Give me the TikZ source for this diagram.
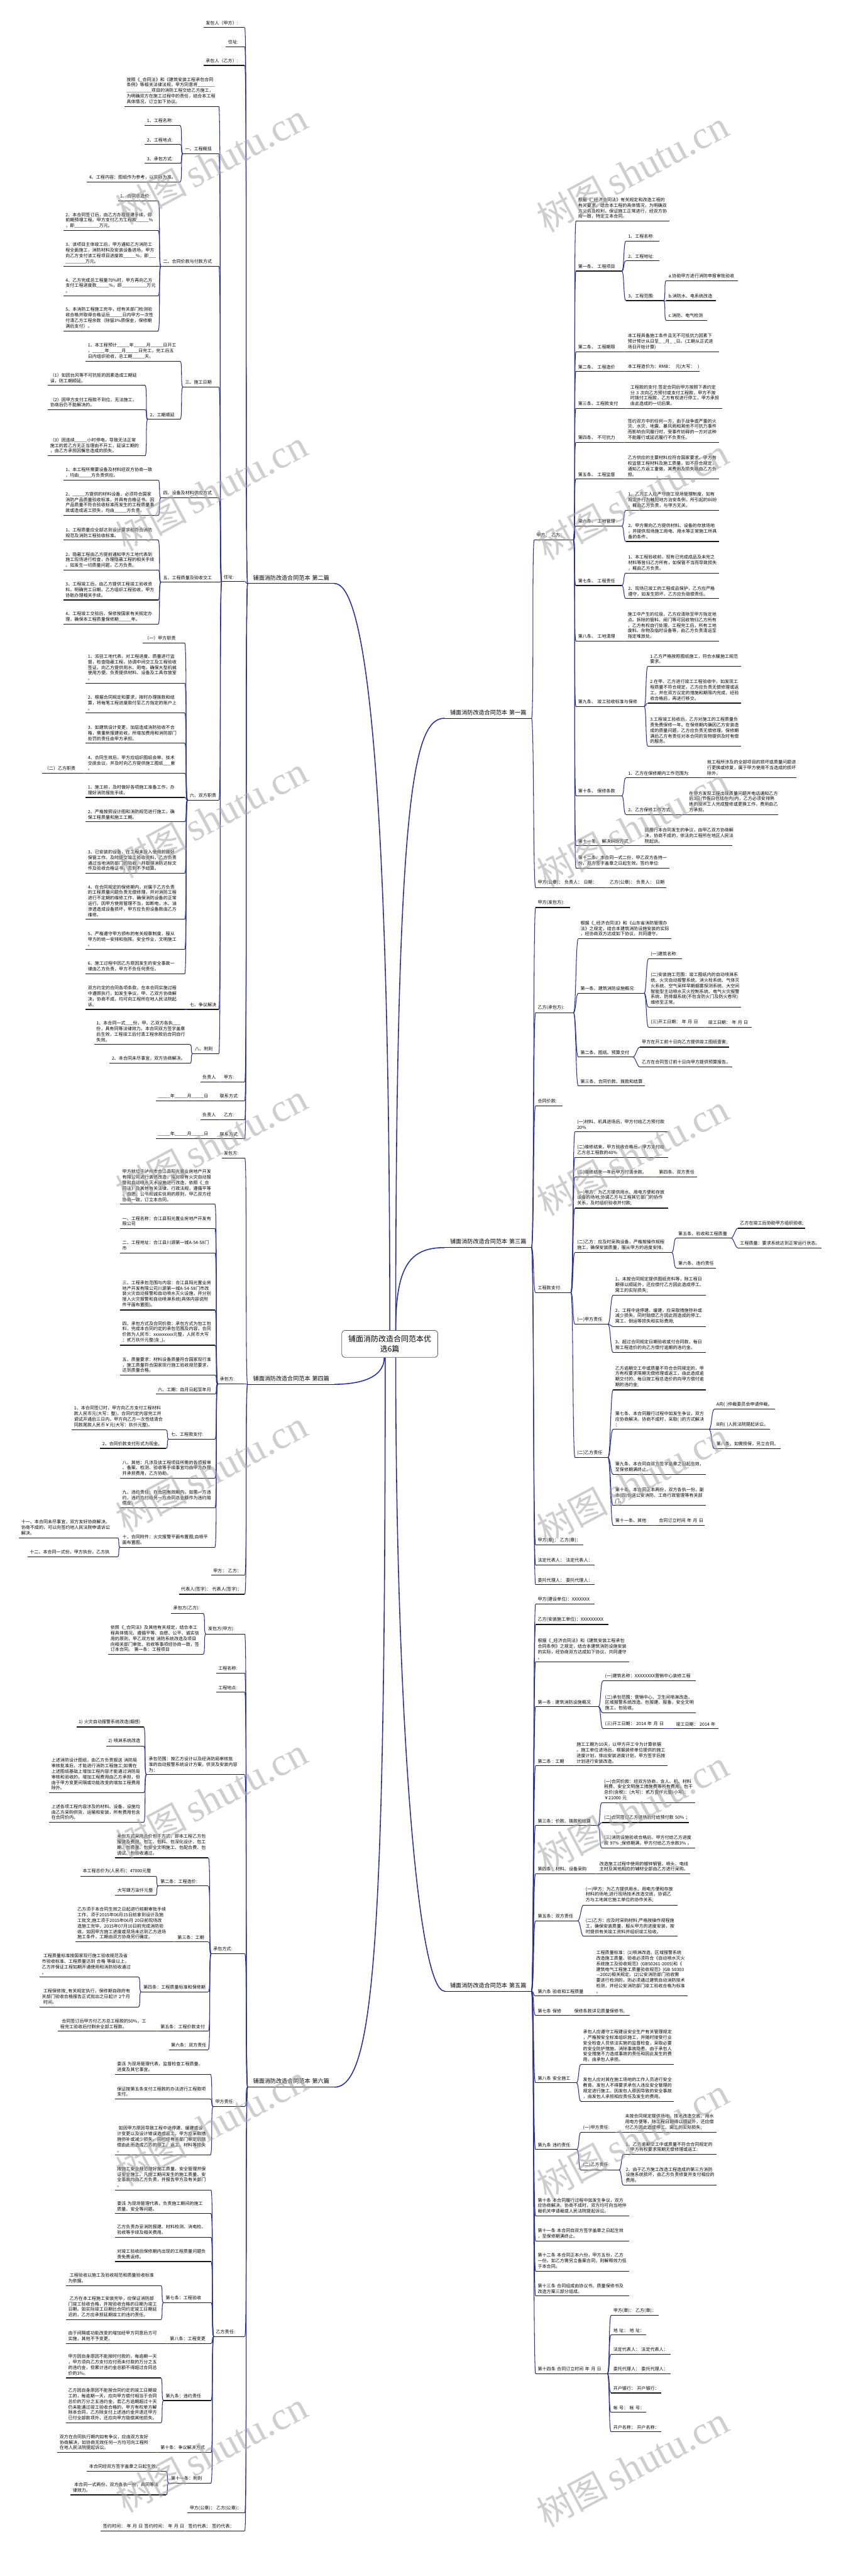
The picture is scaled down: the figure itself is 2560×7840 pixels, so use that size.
\documentclass[tikz,border=0pt]{standalone}
\usepackage{fontspec}
\setmainfont{Noto Sans CJK SC}
\newfontfamily\wmcjk{Noto Sans CJK SC}
\newfontfamily\wmlat{Liberation Serif}
\usetikzlibrary{positioning}
\definecolor{linkblue}{RGB}{40,46,160}
\definecolor{ulblack}{RGB}{25,25,25}
\newcommand\leaffont{\fontsize{3.84}{4.81}\selectfont}
\newcommand\lvfont{\fontsize{4.95}{6}\selectfont}
\newcommand\rootfont{\fontsize{6.54}{8.68}\selectfont}
\newcommand\blnk{\_\_\_\_\_}
\tikzset{
  leaf/.style={anchor=south west, align=left, font=\leaffont, inner xsep=0.06cm, inner ysep=0.07cm,
    execute at begin node={\hyphenpenalty=10000\relax\exhyphenpenalty=10000\relax}},
  lvl1/.style={leaf, font=\lvfont, text width=2.31cm, inner xsep=0.16cm, inner ysep=0.09cm},
  uline/.style={draw=ulblack, line width=0.022cm},
  link/.style={draw=linkblue, line width=0.02cm},
  trunk/.style={draw=linkblue, line width=0.03cm},
  rootbox/.style={draw=black!65, line width=0.015cm, rounded corners=0.09cm, fill=white,
    minimum width=2.92cm, minimum height=0.82cm, align=center, font=\rootfont},
  wm/.style={rotate=28, text=black!35, opacity=0.55}
}
% text node with underline: [style]{name}{west}{east}{y}{text}
\newcommand\mmnode[6][leaf]{%
  \pgfmathsetlengthmacro\nodetw{(#4-#3)*0.01cm-0.12cm}%
  \node[#1, text width=\nodetw] (#2) at (#3,#5) {#6};
  \draw[uline] (#2.south west) -- (#2.south east);}
% branch label: {name}{west}{y}{text}
\newcommand\mmlabel[4]{%
  \node[lvl1] (#1) at (#2,#3) {#4};
  \draw[uline] (#1.south west) -- (#1.south east);}
\newcommand\lkl[2]{\draw[link] (#1.south west) to[out=180,in=0,distance=0.08cm] (#2.south east);}
\newcommand\lkr[2]{\draw[link] (#1.south east) to[out=0,in=180,distance=0.08cm] (#2.south west);}
\begin{document}
\begin{tikzpicture}[x=0.01cm, y=-0.01cm]
\fill[white] (0,0) rectangle (2560,7840);
\useasboundingbox (0,0) rectangle (2560,7840);

% root
\node[rootbox] (root) at (1187,4090) {铺面消防改造合同范本优\\选6篇};

% ---------- 第二篇 (left)
\mmlabel{p2}{754}{1776}{铺面消防改造合同范本~第二篇}
\mmnode{p2a}{620}{744}{84}{发包人（甲方）:}
\mmnode{p2b}{688}{744}{142}{住址:}
\mmnode{p2c}{620}{744}{199}{承包人（乙方）:}
\mmnode{p2d}{675}{744}{1770}{住址:}
\mmnode{p2e}{675}{744}{3293}{甲方:}
\mmnode{p2e1}{610}{665}{3293}{负责人}
\mmnode{p2f}{663}{744}{3350}{联系方式:}
\mmnode{p2f1}{474}{653}{3350}{\blnk 年\blnk 月\blnk 日}
\mmnode{p2g}{675}{744}{3408}{乙方:}
\mmnode{p2g1}{610}{665}{3408}{负责人}
\mmnode{p2h}{663}{744}{3466}{联系方式:}
\mmnode{p2h1}{474}{653}{3466}{\blnk 年\blnk 月\blnk 日}
\foreach \c in {p2a,p2b,p2c,p2d,p2e,p2f,p2g,p2h} {\lkl{p2}{\c}}
\foreach \p/\c in {p2e/p2e1,p2f/p2f1,p2g/p2g1,p2h/p2h1} {\lkl{\p}{\c}}

\mmnode{d1}{379}{665}{324}{按照《\_合同法》和《建筑安装工程承包合同\\条例》等相关法律法规，甲方同意将\blnk\_\_\\\blnk\blnk 项目的消防工程交给乙方施工，\\为明确双方在施工过程中的责任，结合本工程\\具体情况，订立如下协议。}
\mmnode{d2}{557}{665}{468}{一、工程概括}
\mmnode{d2a}{441}{547}{382}{1、工程名称:}
\mmnode{d2b}{441}{547}{440}{2、工程地点:}
\mmnode{d2c}{441}{547}{497}{3、承包方式:}
\mmnode{d2d}{265}{547}{554}{4、工程内容：图纸作为参考，以实际为准。}
\mmnode{d3}{490}{665}{810}{二、合同价款与付款方式}
\mmnode{d3a}{359}{480}{611}{1、合同总造价:}
\mmnode{d3b}{193}{480}{702}{2、本合同签订后，由乙方办理报建手续，即\\前期预埋工程。甲方支付乙方工程款\blnk\%\\，即\blnk\blnk 万元。}
\mmnode{d3c}{193}{480}{810}{3、该项目主体竣工后，甲方通知乙方消防工\\程全面施工，消防材料及安装设备进场。甲方\\向乙方支付该工程项目进度款\blnk\%，即\_\_\_\\\blnk\_\_\_万元。}
\mmnode{d3d}{193}{480}{900}{4、乙方完成总工程量70\%时，甲方再向乙方\\支付工程进度款\blnk\%，即\blnk\blnk 万元\\。}
\mmnode{d3e}{193}{480}{1007}{5、本消防工程施工完毕，经有关部门检测验\\收合格并取得合格证后\blnk 日内甲方一次性\\付清乙方工程余款（除留3\%质保金，保修期\\满后支付）。}
\mmnode{d4}{557}{665}{1178}{三、施工日期}
\mmnode{d4a}{261}{547}{1099}{1、本工程预计\blnk 年\blnk 月\blnk 日开工\\，\blnk 年\blnk 月\blnk 日完工，完工后五\\日内组织验收，总工期\blnk 天。}
\mmnode{d4b}{450}{547}{1276}{2、工期顺延}
\mmnode{d4b1}{146}{440}{1173}{（1）如因台风等不可抗拒的因素造成工期延\\误，则工期顺延。}
\mmnode{d4b2}{146}{440}{1247}{（2）因甲方支付工程款不到位，无法施工，\\协商后仍不能解决的。}
\mmnode{d4b3}{146}{440}{1387}{（3）因连续\blnk 小时停电，导致无法正常\\施工的若乙方无正当理由不开工，延误工期的\\，由乙方承担因懈怠造成的损失。}
\mmnode{d5}{490}{665}{1515}{四、设备及材料供应方式}
\mmnode{d5a}{193}{480}{1461}{1、本工程所需要设备及材料经双方协商一致\\，均由\blnk 方负责供应。}
\mmnode{d5b}{193}{480}{1569}{2、\blnk 方提供的材料设备，必须符合国家\\消防产品质量验收标准，并具有合格证书。因\\产品质量不符合验收标准而发生的工程质量事\\故或造成返工损失，均由\blnk 方负责。}
\mmnode{d6}{490}{665}{1772}{五、工程质量及验收交工}
\mmnode{d6a}{193}{480}{1644}{1、工程质量应全部达到设计要求和符合消防\\规范及消防工程验收标准。}
\mmnode{d6b}{193}{480}{1735}{2、隐蔽工程由乙方提前通知甲方工地代表到\\施工现场进行检查，办理隐蔽工程的相关手续\\。如发生一切质量问题，乙方负责。}
\mmnode{d6c}{193}{480}{1826}{3、工程竣工后，由乙方提供工程竣工验收资\\料，明确完工日期。乙方组织工程验收，甲方\\协助办理相关手续。}
\mmnode{d6d}{193}{480}{1900}{4、工程竣工交验后，保修按国家有关规定办\\理，确保本工程质量保修期\blnk 年。}
\mmnode{d7}{571}{665}{2435}{六、双方职责}
\mmnode{d7a}{434}{561}{1957}{（一）甲方职责}
\mmnode{d7b}{261}{561}{2079}{1、派驻工地代表，对工程进度、质量进行监\\督，检查隐蔽工程。协调中间交工及工程验收\\签证。向乙方提供用水、用电，确保大型机械\\使用方便。负责提供材料、设备及工具存放室\\。}
\mmnode{d7c}{261}{561}{2170}{2、根据合同规定和要求，按时办理拨款和结\\算，将每笔工程进度款付至乙方指定的账户上\\。}
\mmnode{d7d}{261}{561}{2262}{3、如建筑设计变更，加层造成消防验收不合\\格，需重新报建验收，所增加费用和消防部门\\处罚的责任由甲方承担。}
\mmnode{d7e}{261}{561}{2353}{4、合同生效后，甲方应组织图纸会审、技术\\交底会议，并及时向乙方提供施工图纸\_\_\_套\\。}
\mmnode{d7e1}{129}{251}{2353}{（二）乙方职责}
\mmnode{d7f}{261}{561}{2427}{1、施工前，及时做好各项施工准备工作，办\\理好消防报批手续。}
\mmnode{d7g}{261}{561}{2501}{2、严格按照设计图和消防规范进行施工，确\\保工程质量和施工工期。}
\mmnode{d7h}{261}{561}{2658}{3、已安装的设备，在工程未投入使用前做好\\保管工作。及时提交竣工验收资料，乙方负责\\通过当地消防部门的验收，并取得消防达标文\\件及验收合格证书，否则不予结算。}
\mmnode{d7i}{261}{561}{2798}{4、在合同规定的保修期内，对属于乙方负责\\的工程质量问题负责无偿修理，并对消防工程\\进行不定期的维修工作，确保消防设备的正常\\运行。因甲方使用管理不当，如断电，水、油\\渗透造成设备损坏，甲方应负担设备款由乙方\\维修。}
\mmnode{d7j}{261}{561}{2889}{5、严格遵守甲方颁布的有关规章制度，服从\\甲方的统一安排和指挥。安全作业，文明施工\\。}
\mmnode{d7k}{261}{561}{2964}{6、施工过程中因乙方原因发生的安全事故一\\律由乙方负责，甲方不负任何责任。}
\mmnode{d8}{571}{665}{3072}{七、争议解决}
\mmnode{d8a}{261}{561}{3072}{双方约定的合同各项条款，在本合同实施过程\\中遵照执行，如发生争议，甲、乙双方协商解\\决，协商不成，均可向工程所在地人民法院起\\诉。}
\mmnode{d9}{587}{665}{3207}{八、附则}
\mmnode{d9a}{287}{577}{3179}{1、本合同一式\_\_\_份，甲、乙双方各执\_\_\_\\份，具有同等法律效力。本合同双方签字盖章\\后生效，工程竣工后付清工程余款后合同自行\\失效。}
\mmnode{d9b}{334}{577}{3236}{2、本合同未尽事宜，双方协商解决。}
\foreach \c in {d1,d2,d3,d4,d5,d6,d7,d8,d9} {\lkl{p2d}{\c}}
\foreach \c in {d2a,d2b,d2c,d2d} {\lkl{d2}{\c}}
\foreach \c in {d3a,d3b,d3c,d3d,d3e} {\lkl{d3}{\c}}
\foreach \c in {d4a,d4b} {\lkl{d4}{\c}}
\foreach \c in {d4b1,d4b2,d4b3} {\lkl{d4b}{\c}}
\foreach \c in {d5a,d5b} {\lkl{d5}{\c}}
\foreach \c in {d6a,d6b,d6c,d6d} {\lkl{d6}{\c}}
\foreach \c in {d7a,d7b,d7c,d7d,d7e,d7f,d7g,d7h,d7i,d7j,d7k} {\lkl{d7}{\c}}
\lkl{d7e}{d7e1}
\lkl{d8}{d8a}
\foreach \c in {d9a,d9b} {\lkl{d9}{\c}}

% ---------- 第四篇 (left)
\mmlabel{p4}{754}{4213}{铺面消防改造合同范本~第四篇}
\mmnode{p4a}{675}{744}{3524}{发包方:}
\mmnode{p4b}{663}{744}{4212}{承包方:}
\mmnode{p4c}{643}{744}{4794}{甲方：~乙方：}
\mmnode{p4d}{545}{744}{4852}{代表人(签字)：~代表人(签字)：}
\foreach \c in {p4a,p4b,p4c,p4d} {\lkl{p4}{\c}}
\mmnode{p4b1}{366}{653}{3665}{甲方就位于泸州市合江县阳光置业房地产开发\\有限公司进行装修改造，拟对原有火灾自动报\\警和自动喷水灭水设施进行改造，依照《\_合\\同法》及其他有关法律、行政法规，遵循平等\\、自愿、公平和诚实信用的原则，甲乙双方经\\协商一致，订立本合同。}
\mmnode{p4b2}{366}{653}{3739}{一、工程名称：合江县阳光置业房地产开发有\\限公司}
\mmnode{p4b3}{366}{653}{3813}{二、工程地址：合江县川源第一城A-54-58门\\市}
\mmnode{p4b4}{366}{653}{3987}{三、工程承包范围与内容：合江县阳光置业房\\地产开发有限公司川源第一城A-54-58门市改\\装火灾自动报警和自动喷水灭火设施，并分别\\接入火灾报警和自动喷淋系统(具体内容说附\\件平面布置图)。}
\mmnode{p4b5}{366}{653}{4094}{四、承包方式及合同价款：承包方式为包工包\\料，完成本合同约定的承包范围及内容，合同\\价款为人民币：xxxxxxxxx元整，人民币大写\\：贰万玖仟元整(含\_)。}
\mmnode{p4b6}{366}{653}{4185}{五、质量要求：材料设备质量符合国家现行准\\，施工质量符合国家现行施工验收规范要求，\\达到质量合格。}
\mmnode{p4b7}{474}{653}{4243}{六、工期：自月日起至年月}
\mmnode{p4b8}{514}{653}{4380}{七、工程款支付:}
\mmnode{p4b8a}{219}{504}{4352}{1、本合同签订时，甲方向乙方支付工程材料\\款人民币元(大写：整)，合同约定内容完工并\\调试开通后三日内，甲方向乙方一次性结清合\\同款尾款人民币￥元(大写：玖仟元整)。}
\mmnode{p4b8b}{305}{504}{4408}{2、合同价款支付形式为现金。}
\mmnode{p4b9}{366}{653}{4499}{八、其他：凡涉及该工程项目所需的各项报审\\、备案、检测、验收等手续事宜均由甲方办理\\并承担费用，乙方协助。}
\mmnode{p4b10}{366}{653}{4589}{九、违约责任：在合同有效期内，如果一方违\\约，违约方付给另一方合同总金额作为违约赔\\偿金。}
\mmnode{p4b11}{366}{653}{4709}{十、合同附件：火灾报警平面布置图;自喷平\\面布置图。}
\mmnode{p4b11a}{58}{356}{4680}{十一、本合同未尽事宜，双方友好协商解决。\\协商不成的，可以向签约地人民法院申请诉讼\\解决。}
\mmnode{p4b11b}{84}{356}{4738}{十二、本合同一式份，甲方执份，乙方执}
\foreach \c in {p4b1,p4b2,p4b3,p4b4,p4b5,p4b6,p4b7,p4b8,p4b9,p4b10,p4b11} {\lkl{p4b}{\c}}
\foreach \c in {p4b8a,p4b8b} {\lkl{p4b8}{\c}}
\foreach \c in {p4b11a,p4b11b} {\lkl{p4b11}{\c}}

% ---------- 第六篇 (left)
\mmlabel{p6}{754}{6352}{铺面消防改造合同范本~第六篇}
\mmnode{p6a}{627}{744}{4973}{发包方(甲方):}
\mmnode{p6a1}{521}{617}{4910}{承包方(乙方):}
\mmnode{p6a2}{330}{617}{5035}{依照《\_合同法》及其他有关规定，结合本工\\程具体情况，遵循平等、自愿、公平、诚实信\\用的原则，甲乙双方就~消防系统改造及项目\\向相关部门审批、验收等事项经协商一致，签\\订本合同。~第一条：工程项目}
\mmnode{p6b}{658}{744}{5092}{工程名称:}
\mmnode{p6c}{658}{744}{5150}{工程地点:}
\mmnode{p6d}{446}{744}{5401}{承包范围：按乙方设计以及经消防局审核批\\准的自动报警系统设计方案，供货及安装内容\\为：}
\mmnode{p6d1}{233}{436}{5256}{1)~火灾自动报警系统改造(烟感)}
\mmnode{p6d2}{323}{436}{5314}{2)~喷淋系统改造}
\mmnode{p6d3}{150}{436}{5456}{上述消防设计图纸，由乙方负责报送~消防局\\审核批准后，才能进行消防工程施工;如需在\\上述图纸基础上增加工程内容才能通过消防局\\审核和验收的，增加工程费用由乙方承担，但\\由于甲方变更间隔或功能改变的增加工程费用\\除外。}
\mmnode{p6d4}{150}{436}{5546}{上述各项工程内容涉及的材料、设备、设施均\\由乙方采购供货、运输和安装，所有费用包含\\在合同价内。}
\mmnode{p6e}{643}{744}{5946}{承包方式:}
\mmnode{p6e1}{350}{633}{5654}{承包方式采用总价包干方式，即本工程乙方包\\报建及费用、包工、包料、包深化设计、包工\\期、包质量、包安全文明施工、包配合费、包\\调试、包验收通过。}
\mmnode{p6e2}{482}{633}{5740}{第二条：工程造价:}
\mmnode{p6e2a}{245}{472}{5710}{本工程总价为(人民币)：47000元整}
\mmnode{p6e2b}{351}{472}{5768}{大写肆万柒仟元整}
\mmnode{p6e3}{534}{633}{5910}{第三条：工期}
\mmnode{p6e3a}{229}{524}{5910}{乙方须于本合同生效之日起进行前期审批手续\\工作，须于2015年06月15日前拿到设计及施\\工批文;施工须于2015年06月~20日前现场改\\造施工完毕，2015年07月10日前完成消防验\\收。如因甲方施工进度或现场未达到乙方进场\\施工条件，工期由双方协商另行确定。}
\mmnode{p6e4}{430}{633}{6062}{第四条：工程质量标准和保修期}
\mmnode{p6e4a}{121}{420}{6017}{~工程质量标准按国家现行施工验收规范及省\\市验收标准、工程质量达到~合格~等级以上，\\乙方并保证工程如期开通使用和消防验收通过\\。}
\mmnode{p6e4b}{121}{420}{6108}{~工程保修按\_有关规定执行，保修期自政府有\\关部门验收合格报告正式批出之日起计~2个月\\~时间。}
\mmnode{p6e5}{482}{633}{6182}{第五条：工程价款支付}
\mmnode{p6e5a}{177}{472}{6182}{~合同签订后甲方付乙方总工程款的50\%，工\\程完工验收后付剩余全部工程款。}
\mmnode{p6e6}{514}{633}{6238}{第六条：双方责任}
\mmnode{p6f}{649}{744}{6411}{甲方责任:}
\mmnode{p6f1}{350}{639}{6313}{委派~为现场管理代表，监督检查工程质量、\\进度及其它事宜。}
\mmnode{p6f2}{350}{639}{6388}{保证按第五条支付工程款的办法进行工程款项\\支付。}
\mmnode{p6f3}{350}{639}{6559}{~如因甲方原因导致工程中途停建、缓建或设\\计变更以及设计错误造成返工，甲方应采取措\\施弥补或减少损失，同时经有关部门审定后赔\\偿由此而造成乙方的停工、返工、材料等损失\\。}
\mmnode{p6g}{651}{744}{7111}{乙方责任:}
\mmnode{p6g1}{350}{641}{6665}{按施工安全规范做好施工质量、安全管理并保\\证安全施工。凡施工期间发生的施工质量、安\\全事故均由乙方负责，并报告甲方及有关部门\\。}
\mmnode{p6g2}{350}{641}{6737}{委派~为现场管理代表，负责施工期间的施工\\质量、安全等问题。}
\mmnode{p6g3}{350}{641}{6809}{乙方负责办妥消防报建、材料检测、消电检、\\验收等手续及相关费用。}
\mmnode{p6g4}{350}{641}{6883}{对竣工验收后保修期内出现的工程质量问题负\\责免费返修。}
\mmnode{p6g5}{498}{641}{7008}{第七条：工程验收}
\mmnode{p6g5a}{201}{488}{6956}{~工程验收以施工及验收规范和质量验收标准\\为依据。}
\mmnode{p6g5b}{201}{488}{7060}{~乙方在本工程施工安装完毕，应保证消防部\\门竣工验收合格，并按验收合格的日期为竣工\\日期。如实际竣工日期比合同约定竣工日期延\\迟的，乙方应承担延期竣工的违约责任。}
\mmnode{p6g6}{511}{641}{7132}{第八条：工程变更}
\mmnode{p6g6a}{201}{501}{7132}{由于间隔或功能改变的增加经甲方同意后方可\\实施，其他不予变更。}
\mmnode{p6g7}{498}{641}{7306}{第九条：违约责任}
\mmnode{p6g7a}{201}{488}{7237}{甲方因自身原因不能按时付款的，每逾期一天\\，甲方须向乙方支付应付而未付款的万分之五\\的违约金，但累计违约金总额不得超过合同总\\价的3\%。}
\mmnode{p6g7b}{201}{488}{7374}{乙方因自身原因不能按合同约定的竣工日期竣\\工的，每逾期一天，应向甲方偿付相当于合同\\总价的万分之五违约金，若乙方逾期超过十天\\仍未能通过竣工验收合格的，甲方有权单方解\\除本合同，乙方除支付上述违约金并退还甲方\\已付全部款项外，还应向甲方赔偿其他损失。}
\mmnode{p6g8}{482}{641}{7464}{第十条：争议解决方式}
\mmnode{p6g8a}{175}{472}{7464}{双方在合同执行期内如有争议，应由双方友好\\协商解决，如协商无效任何一方均可向工程所\\在地人民法院提起诉讼。}
\mmnode{p6g9}{514}{641}{7557}{第十一条：附则}
\mmnode{p6g9a}{265}{504}{7521}{本合同经双方签字盖章之日起生效。}
\mmnode{p6g9b}{215}{504}{7593}{~本合同一式两份，双方各执一份，具同等法\\律效力。}
\mmnode{p6h}{571}{744}{7648}{甲方(公章)：~乙方(公章)：}
\mmnode{p6i}{567}{744}{7703}{签约代表：~签约代表：}
\mmnode{p6i1}{307}{557}{7703}{签约时间：~年~月~日~签约时间：~年~月~日}
\foreach \c in {p6a,p6b,p6c,p6d,p6e,p6f,p6g,p6h,p6i} {\lkl{p6}{\c}}
\foreach \c in {p6a1,p6a2} {\lkl{p6a}{\c}}
\foreach \c in {p6d1,p6d2,p6d3,p6d4} {\lkl{p6d}{\c}}
\foreach \c in {p6e1,p6e2,p6e3,p6e4,p6e5,p6e6} {\lkl{p6e}{\c}}
\foreach \c in {p6e2a,p6e2b} {\lkl{p6e2}{\c}}
\lkl{p6e3}{p6e3a}
\foreach \c in {p6e4a,p6e4b} {\lkl{p6e4}{\c}}
\lkl{p6e5}{p6e5a}
\foreach \c in {p6f1,p6f2,p6f3} {\lkl{p6f}{\c}}
\foreach \c in {p6g1,p6g2,p6g3,p6g4,p6g5,p6g6,p6g7,p6g8,p6g9} {\lkl{p6g}{\c}}
\foreach \c in {p6g5a,p6g5b} {\lkl{p6g5}{\c}}
\lkl{p6g6}{p6g6a}
\foreach \c in {p6g7a,p6g7b} {\lkl{p6g7}{\c}}
\lkl{p6g8}{p6g8a}
\foreach \c in {p6g9a,p6g9b} {\lkl{p6g9}{\c}}
\lkl{p6i}{p6i1}

% ---------- 第一篇 (right)
\mmlabel{p1}{1354}{2186}{铺面消防改造合同范本~第一篇}
\mmnode{p1a}{1627}{1745}{1643}{甲方：~乙方：}
\mmnode{p1b}{1631}{1842}{2701}{甲方(公章)：~负责人：~日期：}
\mmnode{p1b1}{1850}{2027}{2701}{乙方(公章)：~负责人：~日期}
\foreach \c in {p1a,p1b} {\lkr{p1}{\c}}
\lkr{p1b}{p1b1}
\mmnode{t1}{1754}{2037}{673}{根据《\_经济合同法》有关规定和改造工程的\\有关要求，结合本工程的具体情况，为明确双\\方义务及权利，保证施工正常进行，经双方协\\商一致，特定立本合同。}
\mmnode{t2}{1754}{1892}{825}{第一条、~工程项目}
\mmnode{t2a}{1906}{2006}{734}{1、工程名称:}
\mmnode{t2b}{1906}{2006}{794}{2、工程地址:}
\mmnode{t2c}{1906}{2019}{915}{3、工程范围:}
\mmnode{t2c1}{2029}{2246}{854}{a.协助甲方进行消防申报审批验收}
\mmnode{t2c2}{2029}{2179}{915}{b.消防水、电系统改造}
\mmnode{t2c3}{2029}{2151}{975}{c.消防、电气检测}
\mmnode{t3}{1754}{1895}{1071}{第二条、~工程期限}
\mmnode{t3a}{1905}{2189}{1071}{本工程具备施工条件且无不可抵抗力因素下\\预计预计从日至\_~\_月\_~\_日。(工期从正式进\\场日开始计算)}
\mmnode{t4}{1754}{1895}{1131}{第二条、~工程造价}
\mmnode{t4a}{1905}{2128}{1131}{本工程造价为：RMB：~~元(大写：~~)}
\mmnode{t5}{1754}{1903}{1243}{第三条、工程款支付}
\mmnode{t5a}{1913}{2198}{1243}{工程款的支付:签定合同后甲方按照下表约定\\分~3~次向乙方预付或支付工程款，甲方不按\\时拨付工程款，乙方有权进行停工，甲方承担\\由此造成的一切后果。}
\mmnode{t6}{1754}{1895}{1346}{第四条、~不可抗力}
\mmnode{t6a}{1905}{2189}{1346}{签约双方中的任何一方，由于战争或严重的火\\灾、水灾、地震、暴风雨和其他不可抗力事件\\而影响合同履行时，受事件妨碍的一方对这种\\不能履行或延迟履行不负责任。}
\mmnode{t7}{1754}{1895}{1458}{第五条、~工程监督}
\mmnode{t7a}{1905}{2189}{1458}{乙方供应的主要材料应符合国家要求，甲方有\\权监督工程材料及施工质量，如不符合规定，\\通知乙方返工重做，其费用及损失概由乙方负\\担。}
\mmnode{t8}{1754}{1892}{1601}{第六条、~工地管理}
\mmnode{t8a}{1906}{2189}{1553}{1、乙方工人应严守施工现场管理制度，如有\\规定外行为触犯地方治安条例，所引起的纠纷\\，概由乙方负责，与甲方无关。}
\mmnode{t8b}{1906}{2189}{1648}{2、甲方需向乙方提供材料、设备的存放场地\\，并提供现场施工用电、用水等正常施工所具\\备的条件。}
\mmnode{t9}{1754}{1892}{1782}{第七条、~工程责任}
\mmnode{t9a}{1906}{2189}{1744}{1、本工程验收前，现有已完成成品及未完之\\材料等皆归乙方所有，如保管不当而导致损失\\，概由乙方负责。}
\mmnode{t9b}{1906}{2189}{1822}{2、现场已竣工的工程成品保护，乙方应严格\\遵守，如发生损坏，乙方应负赔偿责任。}
\mmnode{t10}{1754}{1895}{1951}{第八条、~工地清理}
\mmnode{t10a}{1905}{2189}{1951}{施工中产生的垃圾，乙方应清除至甲方指定地\\点。拆除的管料、阀门等可回收物归乙方所有\\，乙方有权自行处理。工程完工后，所有工地\\废料、杂物及临时设备等，由乙方负责清运至\\指定堆放处。}
\mmnode{t11}{1754}{1960}{2150}{第九条、~竣工验收标准与保修}
\mmnode{t11a}{1973}{2256}{2028}{1.乙方严格按照图纸施工，符合水暖施工规范\\要求。}
\mmnode{t11b}{1973}{2256}{2140}{2.在甲、乙方进行竣工工程验收中，如发现工\\程质量不符合规定，乙方应负责无偿修理或返\\工，并在双方议定的措施和期限内完成，经验\\收合格后，再进行移交。}
\mmnode{t11c}{1973}{2256}{2271}{3.工程竣工验收后，乙方对施工的工程质量负\\责免费保修一年。在保修期内确因乙方安装造\\成的质量问题，乙方应负责无偿修理。保修期\\满后乙方有责任对本合同的货物提供及时有偿\\的服务。}
\mmnode{t12}{1754}{1892}{2422}{第十条、~保修条款}
\mmnode{t12a}{1906}{2137}{2367}{1、乙方在保修期内工作范围为:}
\mmnode{t12a1}{2147}{2423}{2367}{就工程所涉及的全部项目的损坏或质量问题进\\行更换或修复，属于甲方使用不当造成的损坏\\除外。}
\mmnode{t12b}{1906}{2082}{2479}{2、乙方保修工作方式:}
\mmnode{t12b1}{2092}{2368}{2479}{在甲方发现工程出现质量问题并电话通知乙方\\后3日(节假日包括在内)内，乙方必须安排熟\\练的技术工人完成整修或更换工作，费用由乙\\方承担。}
\mmnode{t13}{1754}{1947}{2574}{第十一条、~解决纠纷方式}
\mmnode{t13a}{1957}{2229}{2574}{因履行本合同发生的争议，由甲乙双方协商解\\决，协商不成的，依法向工程所在地区人民法\\院起诉。}
\mmnode{t14}{1754}{2037}{2642}{第十二条、本合同一式二份，甲乙双方各持一\\份，双方签字盖章之日起生效。签约单位:}
\foreach \c in {t1,t2,t3,t4,t5,t6,t7,t8,t9,t10,t11,t12,t13,t14} {\lkr{p1a}{\c}}
\foreach \c in {t2a,t2b,t2c} {\lkr{t2}{\c}}
\foreach \c in {t2c1,t2c2,t2c3} {\lkr{t2c}{\c}}
\foreach \p/\c in {t3/t3a,t4/t4a,t5/t5a,t6/t6a,t7/t7a,t10/t10a,t13/t13a,t12a/t12a1,t12b/t12b1} {\lkr{\p}{\c}}
\foreach \c in {t8a,t8b} {\lkr{t8}{\c}}
\foreach \c in {t9a,t9b} {\lkr{t9}{\c}}
\foreach \c in {t11a,t11b,t11c} {\lkr{t11}{\c}}
\foreach \c in {t12a,t12b} {\lkr{t12}{\c}}

% ---------- 第三篇 (right)
\mmlabel{p3}{1354}{3797}{铺面消防改造合同范本~第三篇}
\mmnode{p3a}{1631}{1734}{2762}{甲方(发包方):}
\mmnode{p3b}{1631}{1745}{3082}{乙方(承包方):}
\mmnode{p3c}{1631}{1711}{3366}{合同价款:}
\mmnode{p3d}{1631}{1737}{3934}{工程款支付:}
\mmnode{p3e}{1631}{1775}{4702}{甲方(章)：~乙方(章)：}
\mmnode{p3f}{1631}{1810}{4763}{法定代表人：~法定代表人：}
\mmnode{p3g}{1631}{1810}{4823}{委托代理人：~委托代理人：}
\foreach \c in {p3a,p3b,p3c,p3d,p3e,p3f,p3g} {\lkr{p3}{\c}}
\mmnode{p3b1}{1761}{2042}{2857}{根据《\_经济合同法》和《山东省消防管理办\\法》之规定，结合本建筑消防设施安装的实际\\，经协商双方达成如下协议，共同遵守。}
\mmnode{p3b2}{1761}{1960}{3023}{第一条、建筑消防设施概况:}
\mmnode{p3b2a}{1975}{2076}{2918}{(一)建筑名称:}
\mmnode{p3b2b}{1975}{2256}{3065}{(二)安装施工范围：竣工图纸内的自动喷淋系\\统、火灾自动报警系统、消火栓系统、气体灭\\火系统、空气采样早期烟雾探测系统、大空间\\智能型主动喷水灭火控制系统、电气火灾报警\\系统、防排烟系统(不包含防火门及防火卷帘)\\维修至正常。}
\mmnode{p3b2c}{1975}{2140}{3126}{(三)开工日期：~年~月~日}
\mmnode{p3b2c1}{2150}{2288}{3126}{竣工日期：~年~月~日}
\mmnode{p3b3}{1761}{1926}{3217}{第二条、图纸、预算交付}
\mmnode{p3b3a}{1948}{2219}{3187}{甲方在开工前十日向乙方提供竣工图纸壹套;}
\mmnode{p3b3b}{1948}{2229}{3247}{乙方在合同签订前十日向甲方提供预算报告。}
\mmnode{p3b4}{1761}{1962}{3305}{第三条、合同价款、拨款和结算}
\foreach \c in {p3b1,p3b2,p3b3,p3b4} {\lkr{p3b}{\c}}
\foreach \c in {p3b2a,p3b2b,p3b2c} {\lkr{p3b2}{\c}}
\lkr{p3b2c}{p3b2c1}
\foreach \c in {p3b3a,p3b3b} {\lkr{p3b3}{\c}}
\mmnode{p3d1}{1751}{2034}{3444}{(一)材料、机具进场后，甲方付给乙方预付款\\20\%}
\mmnode{p3d2}{1751}{2034}{3522}{(二)维修结束，甲方验收合格后，甲方支付给\\乙方总工程款的40\%}
\mmnode{p3d3}{1751}{1977}{3582}{(三)维修结束一年后甲方付清余款。}
\mmnode{p3d3a}{2000}{2122}{3582}{第四条、双方责任}
\mmnode{p3d4}{1751}{2034}{3677}{(一)甲方：为乙方提供用水、用电方便和存放\\设备的场地;协调乙方与工程其它部门的协作\\关系，及时组织验收并付款;}
\mmnode{p3d5}{1751}{2044}{3812}{(二)乙方：应及时采购设备，严格按操作规程\\施工，确保安装质量，服从甲方的进度安排。}
\mmnode{p3d5a}{2059}{2225}{3768}{第五条、验收和工程质量}
\mmnode{p3d5a1}{2247}{2451}{3738}{乙方在竣工后协助甲方组织验收;}
\mmnode{p3d5a2}{2247}{2501}{3798}{工程质量：要求系统达到正常运行状态。}
\mmnode{p3d5b}{2059}{2179}{3859}{第六条、违约责任}
\mmnode{p3d6}{1751}{1850}{4030}{(一)甲方责任}
\mmnode{p3d6a}{1867}{2149}{3942}{1、未按合同规定提供图纸资料等，除工程日\\期得以顺延外，还应偿付乙方因此造成停工、\\窝工的实际损失;}
\mmnode{p3d6b}{1867}{2149}{4037}{2、工程中途停建、缓建，应采取措施弥补或\\减少损失，同时赔偿乙方因此而造成的停工、\\窝工、倒运等损失和实际费用;}
\mmnode{p3d6c}{1867}{2149}{4116}{3、超过合同规定日期验收或付合同款，每日\\按工程造价的向乙方偿付逾期的违约金。}
\mmnode{p3d7}{1751}{1850}{4436}{(二)乙方责任}
\mmnode{p3d7a}{1867}{2149}{4230}{乙方逾期交工中或质量不符合合同规定的，甲\\方有权要求限期无偿修理或返工，由此造成逾\\期交付的，每日按工程总造价的向甲方偿付逾\\期的违约金;}
\mmnode{p3d7b}{1867}{2158}{4350}{第七条、本合同履行过程中如发生争议，双方\\应协商解决。协商不成时，采取(~)的方式解决\\：}
\mmnode{p3d7b1}{2175}{2358}{4289}{A向(~)仲裁委员会申请仲裁。}
\mmnode{p3d7b2}{2175}{2343}{4350}{B向(~)人民法院提起诉讼。}
\mmnode{p3d7b3}{2175}{2376}{4409}{第八条、如需担保，另立合同。}
\mmnode{p3d7c}{1867}{2149}{4487}{第九条、本合同自双方签字盖章之日起生效，\\至保修期满终止。}
\mmnode{p3d7d}{1867}{2149}{4582}{第十条、本合同正本两份，双方各执一份，副\\本(四)份送公安消防、工商行政管理等有关部\\门。}
\mmnode{p3d7e}{1867}{1977}{4642}{第十一条、其他}
\mmnode{p3d7e1}{2000}{2145}{4642}{合同订立时间~年~月~日}
\foreach \c in {p3d1,p3d2,p3d3,p3d4,p3d5,p3d6,p3d7} {\lkr{p3d}{\c}}
\lkr{p3d3}{p3d3a}
\foreach \c in {p3d5a,p3d5b} {\lkr{p3d5}{\c}}
\foreach \c in {p3d5a1,p3d5a2} {\lkr{p3d5a}{\c}}
\foreach \c in {p3d6a,p3d6b,p3d6c} {\lkr{p3d6}{\c}}
\foreach \c in {p3d7a,p3d7b,p3d7c,p3d7d,p3d7e} {\lkr{p3d7}{\c}}
\foreach \c in {p3d7b1,p3d7b2,p3d7b3} {\lkr{p3d7b}{\c}}
\lkr{p3d7e}{p3d7e1}

% ---------- 第五篇 (right)
\mmlabel{p5}{1354}{6060}{铺面消防改造合同范本~第五篇}
\mmnode{p5a}{1631}{1810}{4882}{甲方(建设单位)：XXXXXXX}
\mmnode{p5b}{1631}{1852}{4944}{乙方(安装施工单位)：XXXXXXXXX}
\mmnode{p5c}{1631}{1915}{5058}{根据《\_经济合同法》和《建筑安装工程承包\\合同条例》之规定，结合本建筑消防设施安装\\的实际，经协商双方达成如下协议，共同遵守\\。}
\mmnode{p5d}{1631}{1821}{5194}{第一条~:~建筑消防设施概况}
\mmnode{p5d1}{1836}{2117}{5116}{(一)建筑名称：XXXXXXXX营销中心装修工程}
\mmnode{p5d2}{1836}{2117}{5213}{(二)承包范围：营销中心、卫生间喷淋改造，\\区域报警系统改造。包报建、报备，安全文明\\施工，包验收。}
\mmnode{p5d3}{1836}{2020}{5261}{(三)开工日期：~2014~年~月~日}
\mmnode{p5d3a}{2052}{2187}{5261}{竣工日期：~2014~年}
\mmnode{p5e}{1631}{1745}{5374}{第二条~:~工期}
\mmnode{p5e1}{1749}{2031}{5374}{施工工期为10天，以甲方开工令为计算依据\\。施工单位进场后，根据装修单位提供的施工\\进度计划，排出安装进度计划，甲方签字后按\\计划进行安装改造。}
\mmnode{p5f}{1631}{1819}{5556}{第三条：价款、拨款和结算}
\mmnode{p5f1}{1833}{2115}{5486}{(一)合同价款：经双方协商，含人、机、材料\\税费、安全文明施工措施费等所有费用，包干\\总价(含税)：(大写)：贰万壹仟元整(小写)：\\￥21000~元}
\mmnode{p5f2}{1833}{2096}{5547}{(二)合同签订乙方进场后付给预付款~50\%~；}
\mmnode{p5f3}{1833}{2115}{5625}{(三)消防设施验收合格后，甲方付给乙方进度\\款~97\%~;保修期满，甲方付给乙方余款3\%~。}
\mmnode{p5g}{1631}{1812}{5703}{第四条：材料、设备采购}
\mmnode{p5g1}{1819}{2101}{5703}{改造施工过程中使用的镀锌钢管、喷头、电线\\主材及其他相应的辅材全部由乙方进行采购。}
\mmnode{p5h}{1631}{1758}{5846}{第五条：双方责任}
\mmnode{p5h1}{1777}{2061}{5798}{(一)甲方：为乙方提供用水、用电方便和存放\\材料的场地;进行现场技术改造交底，协调乙\\方与工地其它施工单位的协作关系;}
\mmnode{p5h2}{1777}{2061}{5893}{(二)乙方：应及时采购材料;严格按操作规程施\\工，确保安装质量，服从甲方的进度安装，按\\时提供有关竣工资料并组织竣工验收。}
\mmnode{p5i}{1631}{1800}{6075}{第六条~验收和工程质量}
\mmnode{p5i1}{1809}{2092}{6075}{工程质量标准：(1)喷淋改造、区域报警系统\\改造施工质量、验收必须符合《自动喷水灭火\\系统施工及验收规范》(GB50261-2005)和《\\建筑电气工程施工质量验收规范》(GB~50303\\—2002)相关规定。(2)公安消防部门验收需\\要进行检测的，则必须通过建筑自动消防技术\\检测，并经公安消防部门竣工验收合格为标准\\。}
\mmnode{p5j}{1631}{1735}{6134}{第七条~保修}
\mmnode{p5j1}{1742}{1916}{6134}{保修条款详见质量保修书。}
\mmnode{p5k}{1631}{1754}{6339}{第八条~安全施工}
\mmnode{p5k1}{1769}{2051}{6283}{承包人应遵守工程建设安全生产有关管理规定\\，严格按安全标准组织施工，并随时接受行业\\安全检查人员依法实施的监督检查，采取必要\\的安全防护措施，消除事故隐患。由于承包人\\安全措施不力造成事故的责任和因此发生的费\\用，由承包人承担。}
\mmnode{p5k2}{1769}{2051}{6395}{发包人应对其在施工场地的工作人员进行安全\\教育。发包人不得要求承包人违反安全管理的\\规定进行施工。因发包人原因导致的安全事故\\，由发包人承担相应责任及发生的费用。}
\mmnode{p5l}{1631}{1755}{6542}{第九条~违约责任}
\mmnode{p5l1}{1769}{1885}{6490}{(一)甲方责任:}
\mmnode{p5l1a}{1897}{2180}{6490}{未按合同规定提供场地、技术改造交底、用水\\用电方便等，除工程日期得以顺延外，还应偿\\付乙方因此造成停工、窝工的实际损失;}
\mmnode{p5l2}{1769}{1884}{6604}{(二)乙方责任:}
\mmnode{p5l2a}{1899}{2180}{6557}{1、乙方逾期交工中或质量不符合合同规定的\\，甲方有权要求限期无偿修理或返工:}
\mmnode{p5l2b}{1899}{2180}{6650}{2、由于乙方施工改造工程造成的第三方消防\\设施系统损坏，由乙方负责修复并支付相应的\\费用。}
\mmnode{p5m}{1631}{1915}{6744}{第十条~本合同履行过程中如发生争议，双方\\应协商解决。协商不成时，双方均可向当地仲\\裁机关申请裁或人民法院提起诉讼。}
\mmnode{p5n}{1631}{1915}{6820}{第十一条~本合同自双方签字盖章之日起生效\\，至保修期满终止。}
\mmnode{p5o}{1631}{1915}{6912}{第十二条~本合同正本六份，甲方五份，乙方\\一份。如乙方需另立备案合同，则解释效力低\\于本合同。}
\mmnode{p5p}{1631}{1915}{6988}{第十三条~合同组成由协议书、质量保修书及\\改造方案三部分组成。}
\mmnode{p5q}{1631}{1848}{7224}{第十四条~合同订立时间~年~月~日}
\mmnode{p5q1}{1861}{2004}{7047}{甲方(章)：~乙方(章)：}
\mmnode{p5q2}{1861}{1966}{7106}{地~址：~地~址：}
\mmnode{p5q3}{1861}{2040}{7165}{法定代表人：~法定代表人：}
\mmnode{p5q4}{1861}{2040}{7224}{委托代理人：~委托代理人：}
\mmnode{p5q5}{1861}{2013}{7283}{开户银行：~开户银行：}
\mmnode{p5q6}{1861}{1966}{7342}{帐~号：~帐~号：}
\mmnode{p5q7}{1861}{2013}{7401}{开户名称：~开户名称：}
\foreach \c in {p5a,p5b,p5c,p5d,p5e,p5f,p5g,p5h,p5i,p5j,p5k,p5l,p5m,p5n,p5o,p5p,p5q} {\lkr{p5}{\c}}
\foreach \c in {p5d1,p5d2,p5d3} {\lkr{p5d}{\c}}
\foreach \p/\c in {p5d3/p5d3a,p5e/p5e1,p5g/p5g1,p5i/p5i1,p5j/p5j1,p5l1/p5l1a} {\lkr{\p}{\c}}
\foreach \c in {p5f1,p5f2,p5f3} {\lkr{p5f}{\c}}
\foreach \c in {p5h1,p5h2} {\lkr{p5h}{\c}}
\foreach \c in {p5k1,p5k2} {\lkr{p5k}{\c}}
\foreach \c in {p5l1,p5l2} {\lkr{p5l}{\c}}
\foreach \c in {p5l2a,p5l2b} {\lkr{p5l2}{\c}}
\foreach \c in {p5q1,p5q2,p5q3,p5q4,p5q5,p5q6,p5q7} {\lkr{p5q}{\c}}

% ---------- trunk curves from the root
\draw[trunk] (root.north) .. controls (1187,2000) and (1080,1776) .. (p2.south east);
\draw[trunk] ([xshift=0.18cm]root.north) .. controls (1205,2400) and (1262,2186) .. (p1.south west);
\draw[trunk] ([xshift=0.18cm]root.north) .. controls (1205,3850) and (1250,3797) .. (p3.south west);
\draw[trunk] ([xshift=-0.17cm]root.south) .. controls (1170,4200) and (1080,4213) .. (p4.south east);
\draw[trunk] ([xshift=0.18cm]root.south) .. controls (1205,5200) and (1270,6060) .. (p5.south west);
\draw[trunk] ([xshift=-0.14cm]root.south) .. controls (1173,5900) and (1140,6352) .. (p6.south east);

% watermark
\foreach \k in {0,...,7} {
  \node[wm] (wmL\k) at (644,{499+995*\k}) {\wmcjk\fontsize{31}{33}\selectfont 树图\,\wmlat\fontsize{34}{36}\selectfont shutu.cn};
  \node[wm] (wmR\k) at (1926,{522+998*\k}) {\wmcjk\fontsize{31}{33}\selectfont 树图\,\wmlat\fontsize{34}{36}\selectfont shutu.cn};
}
\end{tikzpicture}
\end{document}
